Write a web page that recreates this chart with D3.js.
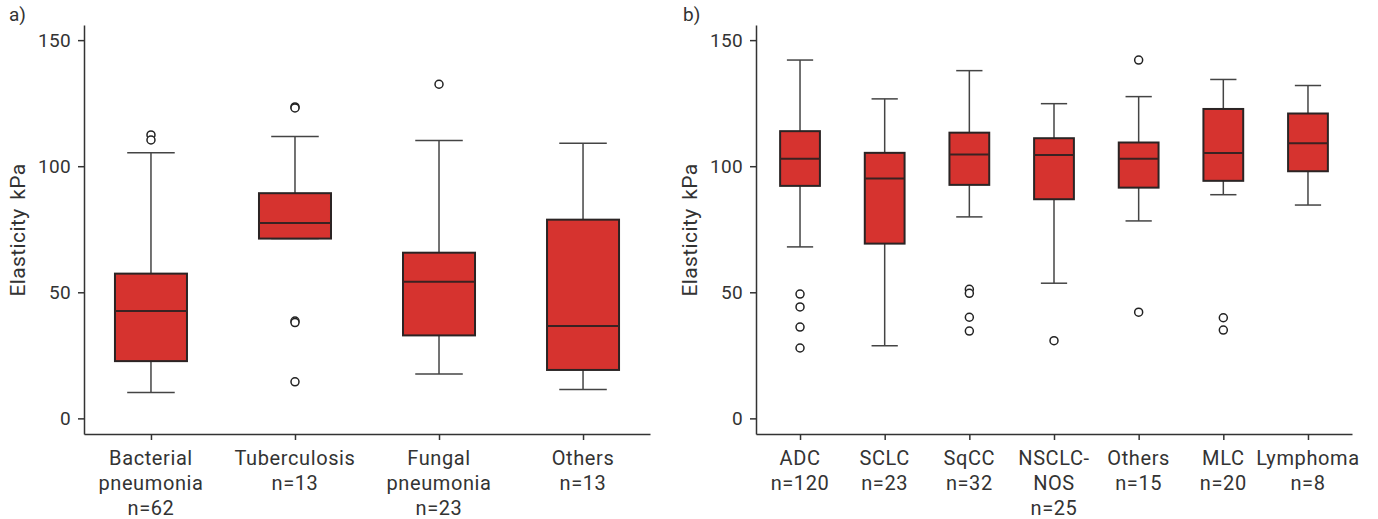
<!DOCTYPE html>
<meta charset="utf-8">
<style>
  body { margin: 0; background: #fff; }
  text { font-family: Roboto, 'DejaVu Sans', sans-serif; fill: #333; }
  .tick line, .domain { stroke: #333; stroke-width: 1.5px; }
</style>
<body>
<script src="https://d3js.org/d3.v7.min.js"></script>
<script>

// panel a
var catsA = ["Bacterial|pneumonia", "Tuberculosis", "Fungal|pneumonia", "Others"];
var nA = [62, 13, 23, 13];
var lowA = [10.3, 71.3, 17.6, 11.4];
var q1A = [22.7, 71.3, 32.9, 19.2];
var medA = [42.6, 77.5, 54.2, 36.6];
var q3A = [57.4, 89.3, 65.7, 78.8];
var highA = [105.3, 111.8, 110.2, 109.1];
var outA = [[112.4, 110.4], [123.5, 123.1, 38.6, 38.0, 14.5], [132.5], []];

// panel b
var catsB = ["ADC", "SCLC", "SqCC", "NSCLC-|NOS", "Others", "MLC", "Lymphoma"];
var nB = [120, 23, 32, 25, 15, 20, 8];
var lowB = [68.0, 28.8, 79.9, 53.6, 78.3, 88.7, 84.6];
var q1B = [92.2, 69.3, 92.6, 86.9, 91.5, 94.2, 98.0];
var medB = [103.0, 95.1, 104.6, 104.4, 103.0, 105.2, 109.1];
var q3B = [113.9, 105.3, 113.3, 111.1, 109.4, 122.7, 120.9];
var highB = [142.1, 126.7, 137.9, 124.8, 127.6, 134.4, 132.0];
var outB = [[49.3, 44.2, 36.2, 27.9], [], [51.2, 49.6, 40.1, 34.6], [30.8], [142.1, 42.1], [39.9, 35.0], []];

var yTicks = [0, 50, 100, 150];

var svg = d3.select("body").append("svg")
  .attr("width", 1378)
  .attr("height", 519);

function drawPanel(opt) {
  var y = d3.scaleLinear().domain([-6.2, 156]).range([434, 25]);
  var x = d3.scalePoint().domain(opt.cats).range([opt.x0, opt.x1]).padding(opt.pad);
  var step = x.step();
  var bw = step * opt.boxFrac, cw = bw * 0.66;

  var g = svg.append("g");

  // y axis
  g.append("g")
    .attr("transform", "translate(" + opt.x0 + ",0)")
    .call(d3.axisLeft(y).tickValues(yTicks).tickSize(6).tickSizeOuter(0).tickPadding(7))
    .call(function (a) { a.selectAll("text").style("font-size", "19px").style("letter-spacing", "0.3px"); });

  // x axis
  g.append("g")
    .attr("transform", "translate(0,434)")
    .call(d3.axisBottom(x).tickSize(6).tickSizeOuter(0).tickFormat(""));

  // category labels
  opt.cats.forEach(function (c, i) {
    var lines = c.split("|").concat(["n=" + opt.n[i]]);
    var t = g.append("text")
      .attr("text-anchor", "middle")
      .style("font-size", "20px")
      .style("letter-spacing", "0.6px");
    lines.forEach(function (l, j) {
      t.append("tspan").attr("x", x(c)).attr("y", 465 + j * 25).text(l);
    });
  });

  // y title
  g.append("text")
    .attr("transform", "translate(" + opt.titleX + ",230) rotate(-90)")
    .attr("text-anchor", "middle")
    .style("font-size", "21px")
    .style("letter-spacing", "0.4px")
    .style("word-spacing", "3px")
    .text("Elasticity kPa");

  g.append("text")
    .attr("x", opt.letterX).attr("y", 21)
    .style("font-size", "19px")
    .text(opt.letter);

  opt.cats.forEach(function (c, i) {
    var cx = x(c);
    // whiskers
    g.append("line").attr("x1", cx).attr("x2", cx)
      .attr("y1", y(opt.high[i])).attr("y2", y(opt.q3[i]))
      .attr("stroke", "#444").attr("stroke-width", 1.5);
    g.append("line").attr("x1", cx).attr("x2", cx)
      .attr("y1", y(opt.q1[i])).attr("y2", y(opt.low[i]))
      .attr("stroke", "#444").attr("stroke-width", 1.5);
    [opt.high[i], opt.low[i]].forEach(function (v) {
      g.append("line").attr("x1", cx - cw / 2).attr("x2", cx + cw / 2)
        .attr("y1", y(v)).attr("y2", y(v))
        .attr("stroke", "#444").attr("stroke-width", 1.5);
    });
    // box
    g.append("rect")
      .attr("x", cx - bw / 2).attr("width", bw)
      .attr("y", y(opt.q3[i])).attr("height", y(opt.q1[i]) - y(opt.q3[i]))
      .attr("fill", "#d6332f").attr("stroke", "#2b2424").attr("stroke-width", 2);
    g.append("line").attr("x1", cx - bw / 2).attr("x2", cx + bw / 2)
      .attr("y1", y(opt.med[i])).attr("y2", y(opt.med[i]))
      .attr("stroke", "#3a2222").attr("stroke-width", 2);
    // outliers
    g.selectAll(null).data(opt.out[i]).enter().append("circle")
      .attr("cx", cx).attr("cy", function (d) { return y(d); })
      .attr("r", 4)
      .attr("fill", "#fff").attr("stroke", "#222").attr("stroke-width", 1.5);
  });
}

drawPanel({ cats: catsA, n: nA, low: lowA, q1: q1A, med: medA, q3: q3A, high: highA, out: outA,
  x0: 84, x1: 650, pad: 0.465, boxFrac: 0.5, titleX: 25, letter: "a)", letterX: 9 });

drawPanel({ cats: catsB, n: nB, low: lowB, q1: q1B, med: medB, q3: q3B, high: highB, out: outB,
  x0: 756, x1: 1352, pad: 0.52, boxFrac: 0.47, titleX: 697, letter: "b)", letterX: 683 });

</script>
</body>
